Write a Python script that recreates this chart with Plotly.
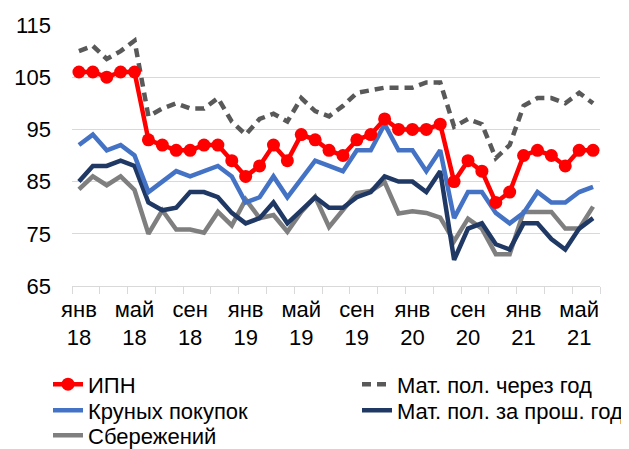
import plotly.graph_objects as go

months = ["янв 18","фев 18","мар 18","апр 18","май 18","июн 18","июл 18","авг 18","сен 18","окт 18","ноя 18","дек 18",
          "янв 19","фев 19","мар 19","апр 19","май 19","июн 19","июл 19","авг 19","сен 19","окт 19","ноя 19","дек 19",
          "янв 20","фев 20","мар 20","июн 20","сен 20","окт 20","ноя 20","дек 20",
          "янв 21","фев 21","мар 21","апр 21","май 21","июн 21"]
label_every = 4

ipn = [106,106,105,106,106,93,92,91,91,92,92,89,86,88,92,89,94,93,91,90,93,94,97,95,
       95,95,96,85,89,87,81,83,90,91,90,88,91,91]
mat_next = [110,111,108.5,110,112,97.5,99,100,99,99,101,96.5,94,97,98,96.5,101,98.5,97.5,99.5,102,102.5,103,103,
            103,104,104,95.5,97,96,89.5,92,99.5,101,101,100,102,100]
big_buy = [92,94,91,92,90,83,85,87,86,87,88,86,81,82,86,82,85.5,89,88,87,91,91,96,91,
           91,87,91,78,83,83,79,77,79,83,81,81,83,84]
mat_past = [85,88,88,89,88,81,79.5,80,83,83,82,79,77,78,81,77,79.5,82,80,80,82,83,86,85,
            85,83,87,70,76,77,73,72,77,77,74,72,76,78]
savings = [83.5,86,84.3,86,83.4,75,79.5,75.8,75.8,75.2,79.2,76.6,81.6,78,78.6,75.4,79.2,82.1,76.3,79.5,82.8,83.2,84.9,78.9,
           79.3,79,78.1,73.6,77.9,76,71.1,71.1,79.2,79.2,79.2,76,76,80.2]

x = list(range(len(months)))
tickvals = x[::label_every]
ticktext = [m.replace(" ", "<br>") for m in months[::label_every]]

FONT = "Liberation Sans, Arial, sans-serif"
FS = 22
OFF = 8  # default page body margin
W, H = 629 - OFF, 449 - OFF
# target plot area in screen pixels: x 72..600, y 25..285.7
ml, mt = 72 - OFF, 25 - OFF
mr = W - (600 - OFF)
mb = H - (285.7 - OFF)
pw, ph = W - ml - mr, H - mt - mb

def px2x(p):
    return (p - OFF - ml) / pw

def py2y(p):
    return (H - mb - (p - OFF)) / ph

fig = go.Figure()
LW = 4.5
fig.add_trace(go.Scatter(x=x, y=savings, mode="lines", name="Сбережений",
                         line=dict(color="#7F7F7F", width=LW), legend="legend5"))
fig.add_trace(go.Scatter(x=x, y=mat_past, mode="lines", name="Мат. пол. за прош. год",
                         line=dict(color="#1F3864", width=LW), legend="legend4"))
fig.add_trace(go.Scatter(x=x, y=big_buy, mode="lines", name="Круных покупок",
                         line=dict(color="#4472C4", width=LW), legend="legend3"))
fig.add_trace(go.Scatter(x=x, y=mat_next, mode="lines", name="Мат. пол. через год",
                         line=dict(color="#595959", width=LW, dash="9px,6px"), legend="legend2"))
fig.add_trace(go.Scatter(x=x, y=ipn, mode="lines+markers", name="ИПН",
                         line=dict(color="#FF0000", width=LW),
                         marker=dict(size=13, color="#FF0000"), legend="legend"))

def leg(px, py):
    return dict(x=px2x(px), y=py2y(py), xanchor="left", yanchor="middle",
                font=dict(family=FONT, size=FS, color="#000000"),
                bgcolor="rgba(0,0,0,0)", orientation="v", itemwidth=30)

col1, col2 = 48, 357
fig.update_layout(
    width=W, height=H,
    margin=dict(l=ml, r=mr, t=mt, b=mb, autoexpand=False),
    plot_bgcolor="white", paper_bgcolor="white",
    font=dict(family=FONT, size=FS, color="#000000"),
    showlegend=True,
    legend=leg(col1, 384),
    legend2=leg(col2, 384),
    legend3=leg(col1, 410),
    legend4=leg(col2, 410),
    legend5=leg(col1, 435),
    xaxis=dict(range=[-0.5, len(months) - 0.5], tickvals=tickvals, ticktext=ticktext,
               ticks="", showgrid=False, zeroline=False,
               showline=True, linecolor="#D9D9D9", linewidth=1.3,
               ticklabelstandoff=3, automargin=False,
               tickfont=dict(family=FONT, size=FS, color="#000000"),
               minor=dict(tick0=-0.5, dtick=2, ticks="outside", ticklen=7,
                          tickcolor="#D9D9D9", tickwidth=1.3, showgrid=False)),
    yaxis=dict(range=[65, 115], tickvals=[65, 75, 85, 95, 105, 115],
               showgrid=True, gridcolor="#D9D9D9", gridwidth=1.3,
               zeroline=False, showline=False, ticks="",
               ticklabelstandoff=20, automargin=False,
               tickfont=dict(family=FONT, size=FS, color="#000000")),
)

fig.write_html("out.html")
